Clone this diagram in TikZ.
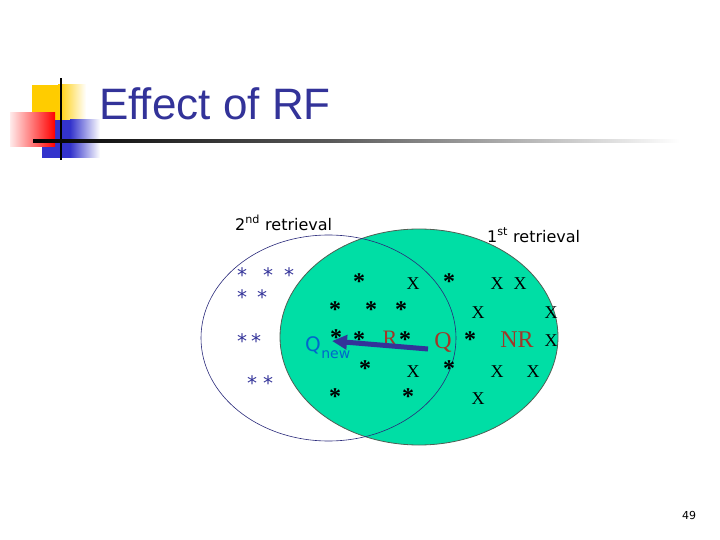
\documentclass[tikz,border=0pt]{standalone}
\usepackage{fontspec}
\setmainfont{DejaVu Sans}
\newfontfamily\titlefont{Liberation Sans}
\newfontfamily\timesfont{Liberation Serif}
\usetikzlibrary{arrows.meta}
\definecolor{slidenavy}{RGB}{51,51,153}
\definecolor{relgreen}{RGB}{0,222,165}
\definecolor{ringgray}{RGB}{80,95,85}
\definecolor{qblue}{RGB}{0,102,204}
\definecolor{brickred}{RGB}{160,55,40}
\definecolor{deco yellow}{RGB}{255,204,0}
\definecolor{deco blue}{RGB}{51,51,204}
\tikzset{
  navystar/.style={anchor=base,yshift=-12pt,inner sep=0pt,text=slidenavy,font=\fontsize{20}{20}\selectfont},
  blackstar/.style={anchor=base,yshift=-12.5pt,inner sep=0pt,font=\timesfont\bfseries\fontsize{24}{24}\selectfont},
  xletter/.style={anchor=base,yshift=-6pt,inner sep=0pt,font=\timesfont\fontsize{18}{18}\selectfont},
  qlabel/.style={anchor=base,inner sep=0pt,text=brickred,font=\timesfont\fontsize{24}{24}\selectfont}
}
\begin{document}
\begin{tikzpicture}[x=1pt,y=-1pt]
    \useasboundingbox (0,0) rectangle (720,540);
    % title decoration
    \fill[deco yellow] (32,85) rectangle (58,120);
    \shade[left color=deco yellow,right color=white] (58,85) rectangle (86,120);
    \fill[deco blue] (42,120) rectangle (70,158);
    \shade[left color=deco blue,right color=white] (70,120) rectangle (100,158);
    \shade[left color=red!8,right color=red] (10,113) rectangle (55,147);
    \fill (59.8,78) rectangle (62.2,160);
    \shade[left color=black,right color=black!65] (33,139.5) rectangle (330,142.5);
    \shade[left color=black!65,right color=white] (330,139.5) rectangle (680,142.5);
    \node[anchor=base west,inner sep=0pt,text=slidenavy,font=\titlefont\fontsize{44}{44}\selectfont] (title) at (99,120) {Effect of RF};
    % the two retrievals
    \draw[fill=relgreen,draw=ringgray,line width=0.8pt] (419,337) ellipse [x radius=139, y radius=108];
    \draw[slidenavy!80!black,line width=0.6pt] (328.5,338) ellipse [x radius=127.5, y radius=103];
    \node[anchor=base west,inner sep=0pt,font=\fontsize{16}{16}\selectfont] (second) at (235,230) {2\textsuperscript{nd} retrieval};
    \node[anchor=base west,inner sep=0pt,font=\fontsize{16}{16}\selectfont] (first) at (487,242) {1\textsuperscript{st} retrieval};
    % documents
    \foreach \x/\y [count=\i] in {242/270,268/270,289/270,242/292,262/292,242/336,256/336,252/378,268/378}
        \node[navystar] (ns\i) at (\x,\y) {*};
    \foreach \x/\y [count=\i] in {359/277,449/277,335/305,371/305,401/305,336/333,359/335,405/335,470/335,365/364,449/364,335/392,408/392}
        \node[blackstar] (bs\i) at (\x,\y) {*};
    \foreach \x/\y [count=\i] in {413/283,497/283,520/283,478/312,551/312,551/340,413/371,497/371,533/371,478/398}
        \node[xletter] (xd\i) at (\x,\y) {X};
    \node[qlabel,font=\timesfont\fontsize{22}{22}\selectfont] (rel) at (390,345) {R};
    \node[qlabel] (qold) at (443,348) {Q};
    \node[qlabel] (nonrel) at (517,347) {NR};
    \node[anchor=base west,inner sep=0pt,text=qblue,font=\fontsize{20}{20}\selectfont] (qnew) at (305,351) {Q};
    \node[anchor=base west,inner sep=0pt,text=qblue,font=\fontsize{14}{14}\selectfont] (qnewsub) at (qnew.base east) [yshift=-7pt] {new};
    % query moves
    \coordinate (qstart) at (428,349);
    \coordinate (qtip) at (332,341);
    \draw[slidenavy,line width=5pt,-{Triangle[length=15pt,width=14pt]}] (qstart) -- (qtip);
    \node[font=\fontsize{11}{11}\selectfont] (page) at (689,515) {49};
\end{tikzpicture}
\end{document}
